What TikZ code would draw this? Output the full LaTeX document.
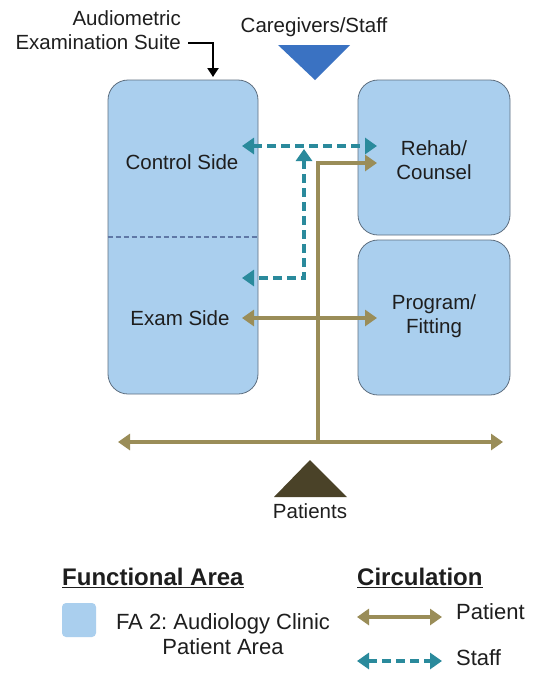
\documentclass[tikz,border=0pt]{standalone}
\usepackage{fontspec}
\setmainfont{Liberation Sans}
\usetikzlibrary{arrows.meta,calc}
\frenchspacing

\definecolor{areafill}{HTML}{AACFEE}
\definecolor{areaedge}{HTML}{5E6F80}
\definecolor{divider}{HTML}{5F78A6}
\definecolor{patientc}{HTML}{9A8D58}
\definecolor{staffc}{HTML}{2A8A9C}
\definecolor{careblue}{HTML}{3A72C2}
\definecolor{patdark}{HTML}{4A4228}
\definecolor{txt}{HTML}{1E1E1E}

\tikzset{
  area/.style={draw=areaedge, line width=0.8pt, fill=areafill, rounded corners=20pt},
  lbl/.style={text=txt, font=\fontsize{20.5}{24}\selectfont, align=center, inner sep=0pt},
  leg/.style={text=txt, font=\fontsize{22}{25.5}\selectfont, align=center, inner sep=0pt},
  legtitle/.style={text=txt, font=\fontsize{24}{28}\selectfont\bfseries, inner sep=0pt, anchor=west},
  ptip/.tip={Triangle[length=12pt,width=16pt]},
  patient/.style={draw=patientc, line width=4.2pt, {ptip}-{ptip}},
  patientone/.style={draw=patientc, line width=4.2pt, -{ptip}},
  staff/.style={draw=staffc, line width=4.2pt, dash pattern=on 9pt off 5pt, {ptip}-{ptip}},
}

\begin{document}
\begin{tikzpicture}[x=1pt,y=-1pt]
\useasboundingbox[fill=white] (0,0) rectangle (541,673);

% functional areas
\node[area, minimum width=150pt, minimum height=314pt] (suite) at (183,237) {};
\node[area, minimum width=152pt, minimum height=155pt] (rehab) at (434,157.5) {};
\node[area, minimum width=152pt, minimum height=155pt] (prog) at (434,317.5) {};
\draw[divider, line width=1.2pt, dash pattern=on 5pt off 3pt]
  (suite.west |- 0,237) -- (suite.east |- 0,237);

\node[lbl] (ctl) at (182,162) {Control Side};
\node[lbl] (exam) at (180,318) {Exam Side};
\node[lbl] (rehabt) at (434,160) {Rehab/\\Counsel};
\node[lbl] (progt) at (434,316) {Program/\\Fitting};

% suite callout
\node[lbl, align=right, anchor=east] (suitet) at (181,30) {Audiometric\\Examination Suite};
\coordinate (callA) at (188,43);
\coordinate (callB) at (213,43);
\coordinate (callC) at (213,77);
\draw[black, line width=2.2pt, -{Triangle[length=9pt,width=11pt]}] (callA) -- (callB) -- (callC);

% entries
\node[lbl] (care) at (314,27) {Caregivers/Staff};
\fill[careblue] (278,45) -- (350,45) -- (315,80) -- cycle;
\fill[patdark] (310,460) -- (347,497) -- (274,497) -- cycle;
\node[lbl] (pat) at (310,511) {Patients};

% staff circulation
\coordinate (sL) at (242,146);
\coordinate (sR) at (377,146);
\coordinate (sUp) at (304,149);
\coordinate (sCorner) at (304,278);
\coordinate (sLow) at (242,278);
\draw[staff] (sL) -- (sR);
\draw[staff] (sUp) -- (sCorner) -- (sLow);

% patient circulation
\coordinate (pL) at (118,442);
\coordinate (pR) at (503,442);
\coordinate (pMid) at (318,442);
\coordinate (pTop) at (318,163);
\coordinate (pRehab) at (377,163);
\coordinate (eL) at (242,318);
\coordinate (eR) at (377,318);
\draw[patient] (pL) -- (pR);
\draw[patientone, line cap=butt] (pMid) -- (pTop) -- (pRehab);
\draw[patient] (eL) -- (eR);

% legend
\node[legtitle] (fa) at (62,578) {\underline{Functional Area}};
\node[legtitle] (circ) at (357,578) {\underline{Circulation}};
\node[fill=areafill, rounded corners=4pt, minimum width=34pt, minimum height=34pt, inner sep=0pt] (swatch) at (79,620) {};
\node[leg] (fatext) at (223,634) {FA 2: Audiology Clinic\\Patient Area};
\coordinate (lpL) at (357,617);
\coordinate (lpR) at (442,617);
\coordinate (lsL) at (357,661);
\coordinate (lsR) at (442,661);
\draw[patient] (lpL) -- (lpR);
\draw[staff] (lsL) -- (lsR);
\node[leg, anchor=west] (lpat) at (456,612) {Patient};
\node[leg, anchor=west] (lstaff) at (456,658) {Staff};
\end{tikzpicture}
\end{document}
